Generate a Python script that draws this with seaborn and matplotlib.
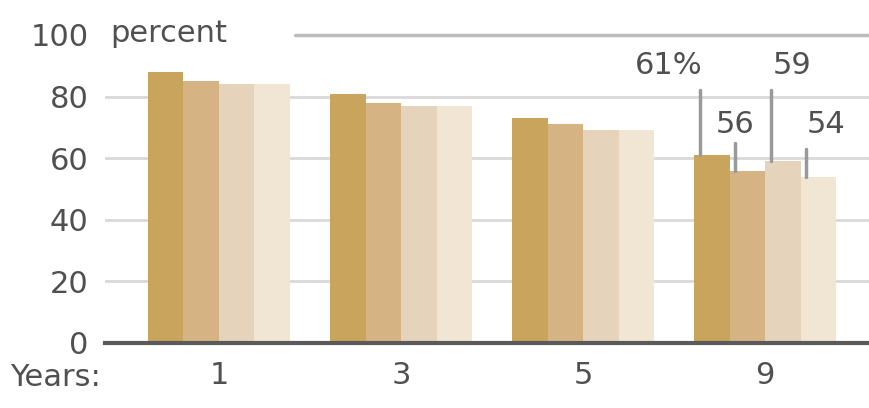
import matplotlib
matplotlib.use("Agg")
import matplotlib.pyplot as plt
import seaborn as sns
import pandas as pd

# Share (percent) by years since start, four series per year group
years = ["1", "3", "5", "9"]
series_names = ["A", "B", "C", "D"]
series_a = [88, 81, 73, 61]
series_b = [85, 78, 71, 56]
series_c = [84, 77, 69, 59]
series_d = [84, 77, 69, 54]
y_ticks = [0, 20, 40, 60, 80, 100]
y_tick_labels = ["0", "20", "40", "60", "80", "100"]
bar_colors = ["#c9a45c", "#d6b383", "#e6d3bc", "#f1e6d3"]

rows = []
for name, vals in zip(series_names, [series_a, series_b, series_c, series_d]):
    for yr, v in zip(years, vals):
        rows.append({"year": yr, "series": name, "value": v})
df = pd.DataFrame(rows)

sns.set_theme(style="white")
plt.rcParams["font.family"] = ["DejaVu Sans"]

text_color = "#505050"
fs = 22

fig = plt.figure(figsize=(8.69, 4.08), dpi=100)
ax = fig.add_axes([105 / 869, 65 / 408, 764 / 869, 308 / 408])

# light gridlines behind the bars
for g in y_ticks[1:-1]:
    ax.axhline(g, color="#d9d9d9", lw=2, zorder=0)
ax.axhline(100, xmin=(295 - 105) / 764, xmax=1, color="#bdbdbd", lw=2.5,
           zorder=0, clip_on=False)

sns.barplot(data=df, x="year", y="value", hue="series", order=years,
            hue_order=series_names, palette=bar_colors, width=0.78,
            saturation=1, edgecolor="none", linewidth=0, legend=False,
            errorbar=None, ax=ax, zorder=2)

ax.set_xlim(-0.626, 3.57)
ax.set_ylim(0, 100)
ax.set_xlabel("")
ax.set_ylabel("")
ax.set_yticks(y_ticks)
ax.set_yticklabels(y_tick_labels)
ax.tick_params(axis="y", length=0, pad=12, labelsize=fs, labelcolor=text_color)
ax.tick_params(axis="x", length=0, pad=13, labelsize=fs, labelcolor=text_color)

for side in ["top", "right", "left"]:
    ax.spines[side].set_visible(False)
ax.spines["bottom"].set_color("#5a5a5a")
ax.spines["bottom"].set_linewidth(3)
ax.spines["bottom"].set_zorder(3)

fig.text(110 / 869, (408 - 33) / 408, "percent", fontsize=fs, color=text_color,
         ha="left", va="center")
fig.text(10 / 869, (408 - 378) / 408, "Years:", fontsize=fs, color=text_color,
         ha="left", va="center")

# value labels with leader lines for the 9-year group
bars_9 = [ax.patches[i * len(years) + 3] for i in range(len(series_names))]
vals_9 = [series_a[3], series_b[3], series_c[3], series_d[3]]
label_pos = [(2.47, 90, "61%", 82), (2.835, 71, "56", 65),
             (3.15, 90, "59", 82), (3.335, 71, "54", 63)]
for bar, v, (lx, ly, txt, ltop) in zip(bars_9, vals_9, label_pos):
    ax.text(lx, ly, txt, fontsize=fs, color=text_color, ha="center",
            va="center", zorder=5)
    x_lead = bar.get_x() + 0.03
    ax.plot([x_lead, x_lead], [ltop, v], color="#999999", lw=2.5, zorder=4)

fig.savefig("out.png", dpi=100, facecolor="white")
